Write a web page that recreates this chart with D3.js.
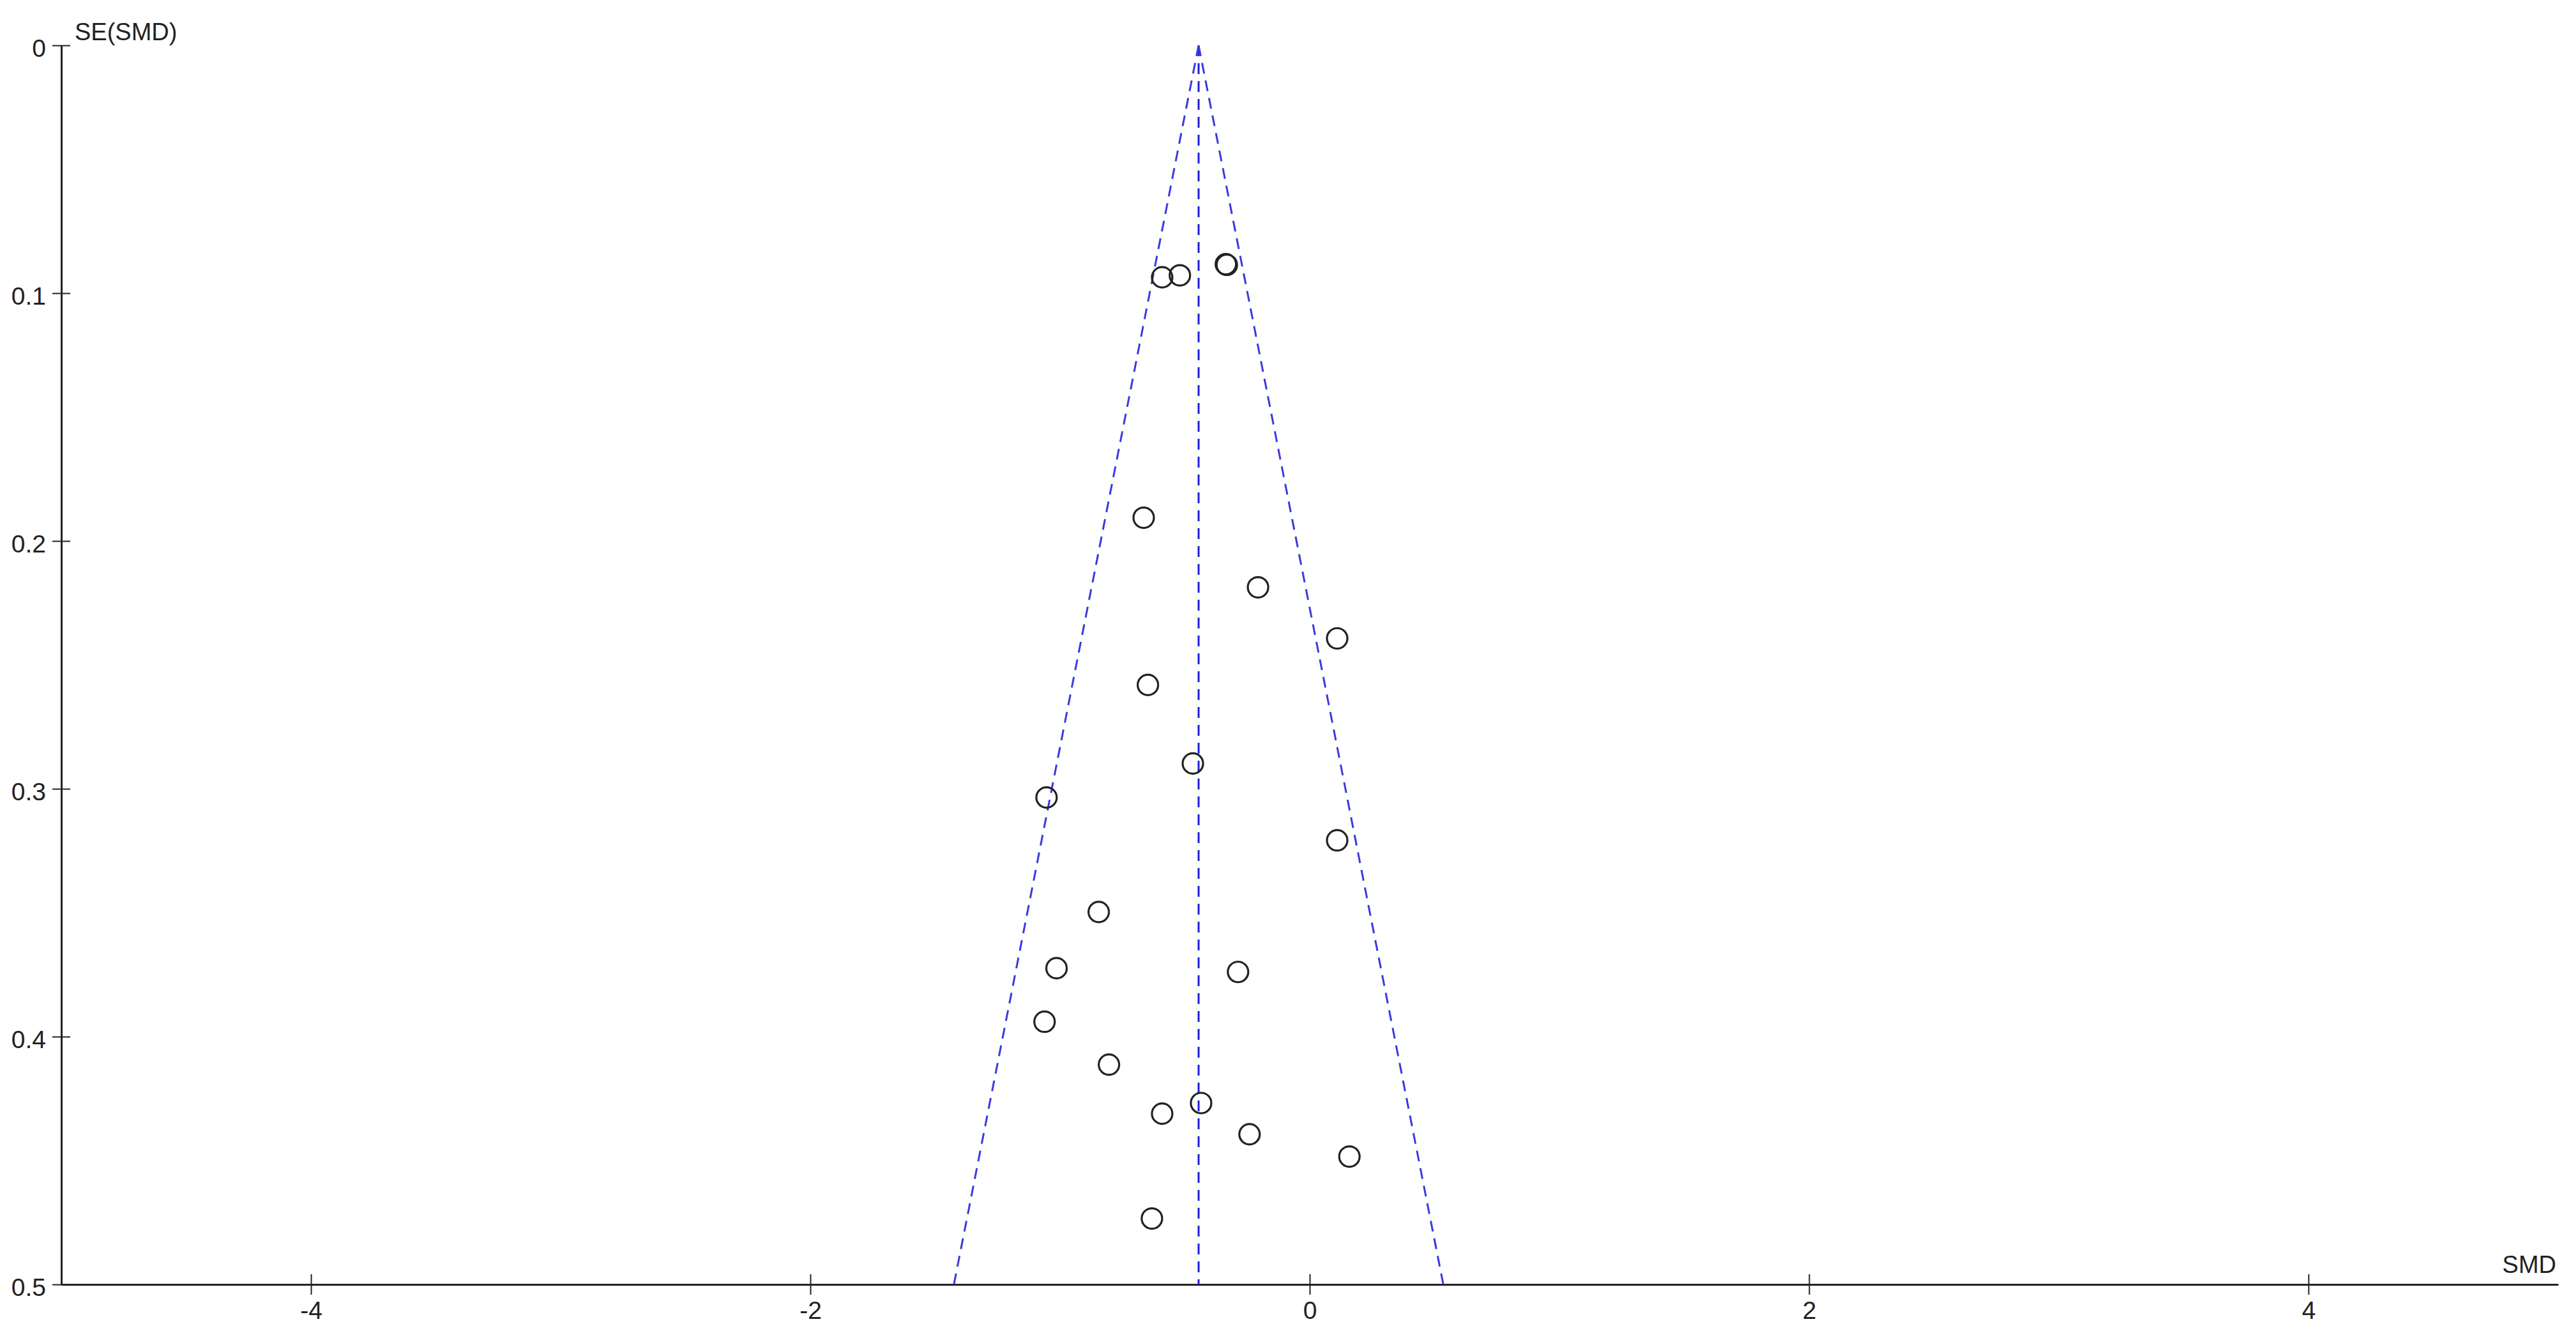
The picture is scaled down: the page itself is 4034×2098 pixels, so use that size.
<!DOCTYPE html>
<html>
<head>
<meta charset="utf-8">
<script src="https://cdn.jsdelivr.net/npm/d3@7"></script>
<style>
  body { margin: 0; background: #fff; }
  svg { display: block; font-family: "Liberation Sans", Arial, sans-serif; }
</style>
</head>
<body>
<svg id="funnel" width="4034" height="2098"></svg>
<script>
// study estimates
const smd = [-0.591, -0.520, -0.336, -0.332, -0.665, -0.207, 0.110, -0.648, -0.468, -1.054,
  0.110, -0.845, -1.014, -0.287, -1.062, -0.804, -0.435, -0.591, -0.241, 0.159, -0.632];
const se = [0.0936, 0.0928, 0.0883, 0.0886, 0.1906, 0.2187, 0.2393, 0.2581, 0.2898, 0.3035,
  0.3208, 0.3497, 0.3724, 0.3739, 0.3940, 0.4113, 0.4268, 0.4311, 0.4394, 0.4484, 0.4734];
const pooled = -0.445;
const xTicks = [-4, -2, 0, 2, 4];
const yTicks = [0, 0.1, 0.2, 0.3, 0.4, 0.5];

const svg = d3.select('#funnel'),
  margin = { left: 96, top: 71, right: 4006, bottom: 2011 };

const x = d3.scaleLinear().domain([-5, 5]).range([margin.left, margin.right]);
const y = d3.scaleLinear().domain([0, 0.5]).range([margin.top, margin.bottom]);
const axisColor = '#222';

// x axis
const gx = svg.append('g')
  .attr('transform', `translate(0,${margin.bottom})`)
  .call(d3.axisBottom(x).tickValues(xTicks).tickSizeOuter(0).tickFormat(d => String(d)));
gx.select('.domain').attr('stroke', axisColor).attr('stroke-width', 3);
gx.selectAll('.tick line').attr('y1', -16).attr('y2', 16).attr('stroke', axisColor).attr('stroke-width', 2);
gx.selectAll('.tick text').attr('y', 54).attr('dy', 0)
  .attr('font-size', 39).attr('fill', axisColor);
gx.attr('font-family', null).attr('font-size', null);

// y axis
const gy = svg.append('g')
  .attr('transform', `translate(${margin.left},0)`)
  .call(d3.axisLeft(y).tickValues(yTicks).tickSizeOuter(0).tickFormat(d => String(d)));
gy.select('.domain').attr('stroke', axisColor).attr('stroke-width', 3);
gy.selectAll('.tick line').attr('x1', -14).attr('x2', 14).attr('stroke', axisColor).attr('stroke-width', 2);
gy.selectAll('.tick text').attr('x', -24).attr('dy', '0.45em')
  .attr('font-size', 39).attr('fill', axisColor);
gy.attr('font-family', null).attr('font-size', null);

// axis titles
svg.append('text').attr('x', 117).attr('y', 63)
  .attr('font-size', 38).attr('fill', axisColor).text('SE(SMD)');
svg.append('text').attr('x', 4003).attr('y', 1993).attr('text-anchor', 'end')
  .attr('font-size', 38).attr('fill', axisColor).text('SMD');

// funnel: pooled line and 95% limits
const seMax = yTicks[yTicks.length - 1];
svg.append('line')
  .attr('x1', x(pooled)).attr('x2', x(pooled))
  .attr('y1', y(0)).attr('y2', y(seMax))
  .attr('stroke', '#1f1fd6').attr('stroke-width', 3)
  .attr('stroke-dasharray', '17,11');

const funnel = d3.line().x(d => x(d[0])).y(d => y(d[1]));
[-1, 1].forEach(s => {
  svg.append('path')
    .attr('d', funnel([[pooled, 0], [pooled + s * 1.96 * seMax, seMax]]))
    .attr('fill', 'none')
    .attr('stroke', '#3a3ade').attr('stroke-width', 3)
    .attr('stroke-dasharray', '17,11');
});

// studies
svg.selectAll('.study')
  .data(smd.map((d, i) => ({ smd: d, se: se[i] })))
  .enter()
  .append('circle')
  .attr('class', 'study')
  .attr('cx', d => x(d.smd))
  .attr('cy', d => y(d.se))
  .attr('r', 16)
  .attr('fill', 'none')
  .attr('stroke', '#222')
  .attr('stroke-width', 3.2);
</script>
</body>
</html>
